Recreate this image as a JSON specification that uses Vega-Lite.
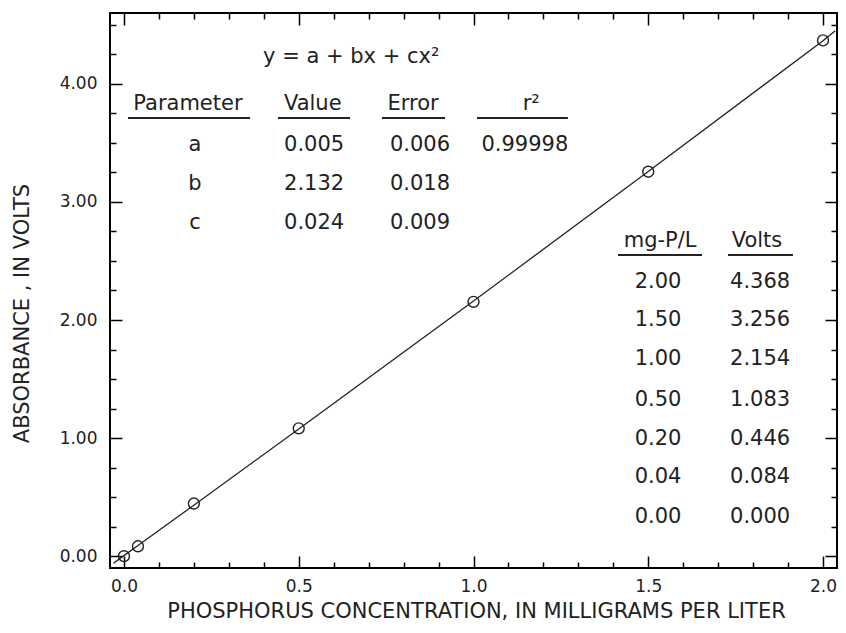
{
  "$schema": "https://vega.github.io/schema/vega-lite/v6.json",
  "width": 727,
  "height": 555,
  "autosize": {"type": "none"},
  "padding": {"left": 110, "top": 13, "right": 9, "bottom": 65},
  "background": "white",
  "config": {
    "view": {"stroke": "black", "strokeWidth": 2},
    "font": "DejaVu Sans",
    "axis": {
      "grid": false,
      "domain": false,
      "tickColor": "black",
      "tickWidth": 1.5,
      "labelFont": "DejaVu Sans",
      "labelFontSize": 17,
      "labelColor": "#222",
      "titleFont": "DejaVu Sans",
      "titleFontSize": 21,
      "titleFontWeight": "normal",
      "titleColor": "#222"
    }
  },
  "datasets": {
    "points": [
      {"mg": 0.0, "volts": 0.0},
      {"mg": 0.04, "volts": 0.084},
      {"mg": 0.2, "volts": 0.446},
      {"mg": 0.5, "volts": 1.083},
      {"mg": 1.0, "volts": 2.154},
      {"mg": 1.5, "volts": 3.256},
      {"mg": 2.0, "volts": 4.368}
    ],
    "curve": [
      {"mg": -0.03, "volts": -0.06},
      {"mg": 0.0, "volts": 0.005},
      {"mg": 0.04, "volts": 0.09},
      {"mg": 0.2, "volts": 0.432},
      {"mg": 0.5, "volts": 1.077},
      {"mg": 1.0, "volts": 2.161},
      {"mg": 1.5, "volts": 3.257},
      {"mg": 2.0, "volts": 4.365},
      {"mg": 2.035, "volts": 4.45}
    ],
    "labels": [
      {"x": 0.65, "y": 4.227, "t": "y = a + bx + cx²"},
      {"x": 0.183, "y": 3.829, "t": "Parameter"},
      {"x": 0.54, "y": 3.829, "t": "Value"},
      {"x": 0.827, "y": 3.829, "t": "Error"},
      {"x": 1.165, "y": 3.829, "t": "r²"},
      {"x": 0.203, "y": 3.482, "t": "a"},
      {"x": 0.544, "y": 3.482, "t": "0.005"},
      {"x": 0.847, "y": 3.482, "t": "0.006"},
      {"x": 1.147, "y": 3.482, "t": "0.99998"},
      {"x": 0.203, "y": 3.152, "t": "b"},
      {"x": 0.544, "y": 3.152, "t": "2.132"},
      {"x": 0.847, "y": 3.152, "t": "0.018"},
      {"x": 0.203, "y": 2.822, "t": "c"},
      {"x": 0.544, "y": 2.822, "t": "0.024"},
      {"x": 0.847, "y": 2.822, "t": "0.009"},
      {"x": 1.534, "y": 2.669, "t": "mg-P/L"},
      {"x": 1.811, "y": 2.669, "t": "Volts"},
      {"x": 1.528, "y": 2.322, "t": "2.00"},
      {"x": 1.82, "y": 2.322, "t": "4.368"},
      {"x": 1.528, "y": 2.0005, "t": "1.50"},
      {"x": 1.82, "y": 2.0005, "t": "3.256"},
      {"x": 1.528, "y": 1.67, "t": "1.00"},
      {"x": 1.82, "y": 1.67, "t": "2.154"},
      {"x": 1.528, "y": 1.323, "t": "0.50"},
      {"x": 1.82, "y": 1.323, "t": "1.083"},
      {"x": 1.528, "y": 0.993, "t": "0.20"},
      {"x": 1.82, "y": 0.993, "t": "0.446"},
      {"x": 1.528, "y": 0.671, "t": "0.04"},
      {"x": 1.82, "y": 0.671, "t": "0.084"},
      {"x": 1.528, "y": 0.332, "t": "0.00"},
      {"x": 1.82, "y": 0.332, "t": "0.000"}
    ],
    "underlines": [
      {"x": 0.0115, "x2": 0.3606, "y": 3.711},
      {"x": 0.4407, "x2": 0.6467, "y": 3.711},
      {"x": 0.7382, "x2": 0.9185, "y": 3.711},
      {"x": 1.01, "x2": 1.27, "y": 3.711},
      {"x": 1.4135, "x2": 1.654, "y": 2.551},
      {"x": 1.728, "x2": 1.914, "y": 2.551}
    ]
  },
  "layer": [
    {
      "data": {"name": "curve"},
      "mark": {"type": "line", "color": "#222", "strokeWidth": 1.3},
      "encoding": {
        "x": {
          "field": "mg", "type": "quantitative",
          "scale": {"domain": [-0.04, 2.04], "nice": false, "zero": false},
          "axis": {
            "orient": "bottom", "values": [0, 0.5, 1, 1.5, 2], "format": ".1f",
            "tickSize": -12, "labelPadding": 22,
            "title": "PHOSPHORUS CONCENTRATION, IN MILLIGRAMS PER LITER",
            "titleX": 366, "titleY": 43, "titleBaseline": "middle", "titleAlign": "center"
          }
        },
        "y": {
          "field": "volts", "type": "quantitative",
          "scale": {"domain": [-0.1, 4.6], "nice": false, "zero": false},
          "axis": {
            "orient": "left", "values": [0, 1, 2, 3, 4], "format": ".2f",
            "tickSize": -12, "labelPadding": 25,
            "title": "ABSORBANCE , IN VOLTS",
            "titleX": -88, "titleY": 300, "titleBaseline": "middle", "titleAlign": "center", "titleAngle": -90
          }
        }
      }
    },
    {
      "data": {"name": "points"},
      "mark": {"type": "point", "shape": "circle", "filled": false, "stroke": "#222", "strokeWidth": 1.4, "size": 120, "opacity": 1},
      "encoding": {
        "x": {
          "field": "mg", "type": "quantitative",
          "axis": {
            "orient": "bottom",
            "values": [0.1, 0.2, 0.3, 0.4, 0.6, 0.7, 0.8, 0.9, 1.1, 1.2, 1.3, 1.4, 1.6, 1.7, 1.8, 1.9],
            "tickSize": -6, "labels": false, "title": null
          }
        },
        "y": {
          "field": "volts", "type": "quantitative",
          "axis": {
            "orient": "left",
            "values": [0.25, 0.5, 0.75, 1.25, 1.5, 1.75, 2.25, 2.5, 2.75, 3.25, 3.5, 3.75, 4.25, 4.5],
            "tickSize": -6, "labels": false, "title": null
          }
        }
      }
    },
    {
      "data": {"name": "labels"},
      "mark": {"type": "text", "font": "DejaVu Sans", "fontSize": 21, "color": "#222", "baseline": "middle", "align": "center"},
      "encoding": {
        "x": {
          "field": "x", "type": "quantitative",
          "axis": {"orient": "top", "values": [0, 0.5, 1, 1.5, 2], "tickSize": -12, "labels": false, "title": null}
        },
        "y": {
          "field": "y", "type": "quantitative",
          "axis": {"orient": "right", "values": [0, 1, 2, 3, 4], "tickSize": -12, "labels": false, "title": null}
        },
        "text": {"field": "t", "type": "nominal"}
      }
    },
    {
      "data": {"name": "underlines"},
      "mark": {"type": "rule", "color": "#222", "strokeWidth": 2},
      "encoding": {
        "x": {
          "field": "x", "type": "quantitative",
          "axis": {
            "orient": "top",
            "values": [0.1, 0.2, 0.3, 0.4, 0.6, 0.7, 0.8, 0.9, 1.1, 1.2, 1.3, 1.4, 1.6, 1.7, 1.8, 1.9],
            "tickSize": -6, "labels": false, "title": null
          }
        },
        "x2": {"field": "x2"},
        "y": {
          "field": "y", "type": "quantitative",
          "axis": {
            "orient": "right",
            "values": [0.25, 0.5, 0.75, 1.25, 1.5, 1.75, 2.25, 2.5, 2.75, 3.25, 3.5, 3.75, 4.25, 4.5],
            "tickSize": -6, "labels": false, "title": null
          }
        }
      }
    }
  ],
  "resolve": {"axis": {"x": "independent", "y": "independent"}}
}
